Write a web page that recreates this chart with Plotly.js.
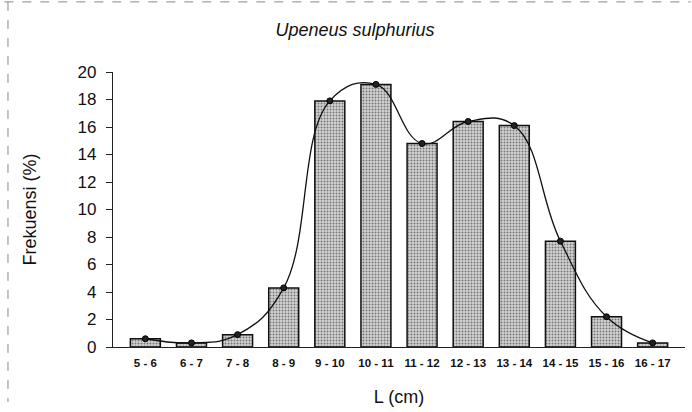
<!DOCTYPE html>
<html><head><meta charset="utf-8">
<script src="https://cdn.plot.ly/plotly-3.0.1.min.js"></script>
<style>html,body{margin:0;padding:0;background:#fff}#chart{width:692px;height:412px}</style>
</head><body><div id="chart"></div>
<script>
const categories = ["5 - 6","6 - 7","7 - 8","8 - 9","9 - 10","10 - 11","11 - 12","12 - 13","13 - 14","14 - 15","15 - 16","16 - 17"];
const frequency = [0.6, 0.3, 0.9, 4.3, 17.9, 19.1, 14.8, 16.4, 16.1, 7.7, 2.2, 0.3];
const yTicks = [0,2,4,6,8,10,12,14,16,18,20];

const bars = {
  type: 'bar', x: categories, y: frequency,
  marker: {color: '#c9c9c9', line: {color: '#111', width: 1.5},
    pattern: {shape: '.', bgcolor: '#d4d4d4', fgcolor: '#777', size: 3, solidity: 0.35}},
  hoverinfo: 'skip', showlegend: false
};
const curve = {
  type: 'scatter', mode: 'lines+markers', x: categories, y: frequency,
  line: {shape: 'spline', smoothing: 1.2, color: '#111', width: 1.3},
  marker: {symbol: 'circle', size: 6, color: '#222', line: {color: '#000', width: 1}},
  showlegend: false
};
const layout = {
  width: 692, height: 412,
  margin: {l: 113, r: 7, t: 72, b: 65},
  paper_bgcolor: '#fff', plot_bgcolor: '#fff',
  font: {family: 'Liberation Sans, Arial, sans-serif', color: '#111'},
  bargap: 0.35,
  title: {text: '<i>Upeneus sulphurius</i>', x: 0.513, xanchor: 'center', xref: 'container',
          y: 0.927, yref: 'container', yanchor: 'middle', font: {size: 18, color: '#111'}},
  xaxis: {
    type: 'category', showgrid: false, showline: true, linecolor: '#222', linewidth: 1.2,
    ticks: '', tickfont: {size: 11.5, color: '#111', weight: 'bold'}, ticklabelstandoff: 5,
    title: {text: 'L (cm)', font: {size: 18}, standoff: 22}, zeroline: false, fixedrange: true
  },
  yaxis: {
    range: [0, 20], tickvals: yTicks, ticktext: yTicks.map(String),
    showgrid: false, showline: true, linecolor: '#222', linewidth: 1.2,
    ticks: 'outside', ticklen: 6, tickcolor: '#222', tickfont: {size: 17, color: '#111'},
    ticklabelstandoff: 6, zeroline: false,
    title: {text: 'Frekuensi (%)', font: {size: 18}, standoff: 36}, fixedrange: true
  },
  shapes: [
    {type: 'line', xref: 'paper', yref: 'paper', x0: -0.19, x1: 1.01, y0: 1.255, y1: 1.255,
     line: {color: '#888', width: 1, dash: 'dash'}},
    {type: 'line', xref: 'paper', yref: 'paper', x0: -0.1836, x1: -0.1836, y0: 1.255, y1: -0.2,
     line: {color: '#888', width: 1, dash: 'dash'}}
  ]
};
Plotly.newPlot('chart', [bars, curve], layout, {staticPlot: true});
</script></body></html>
